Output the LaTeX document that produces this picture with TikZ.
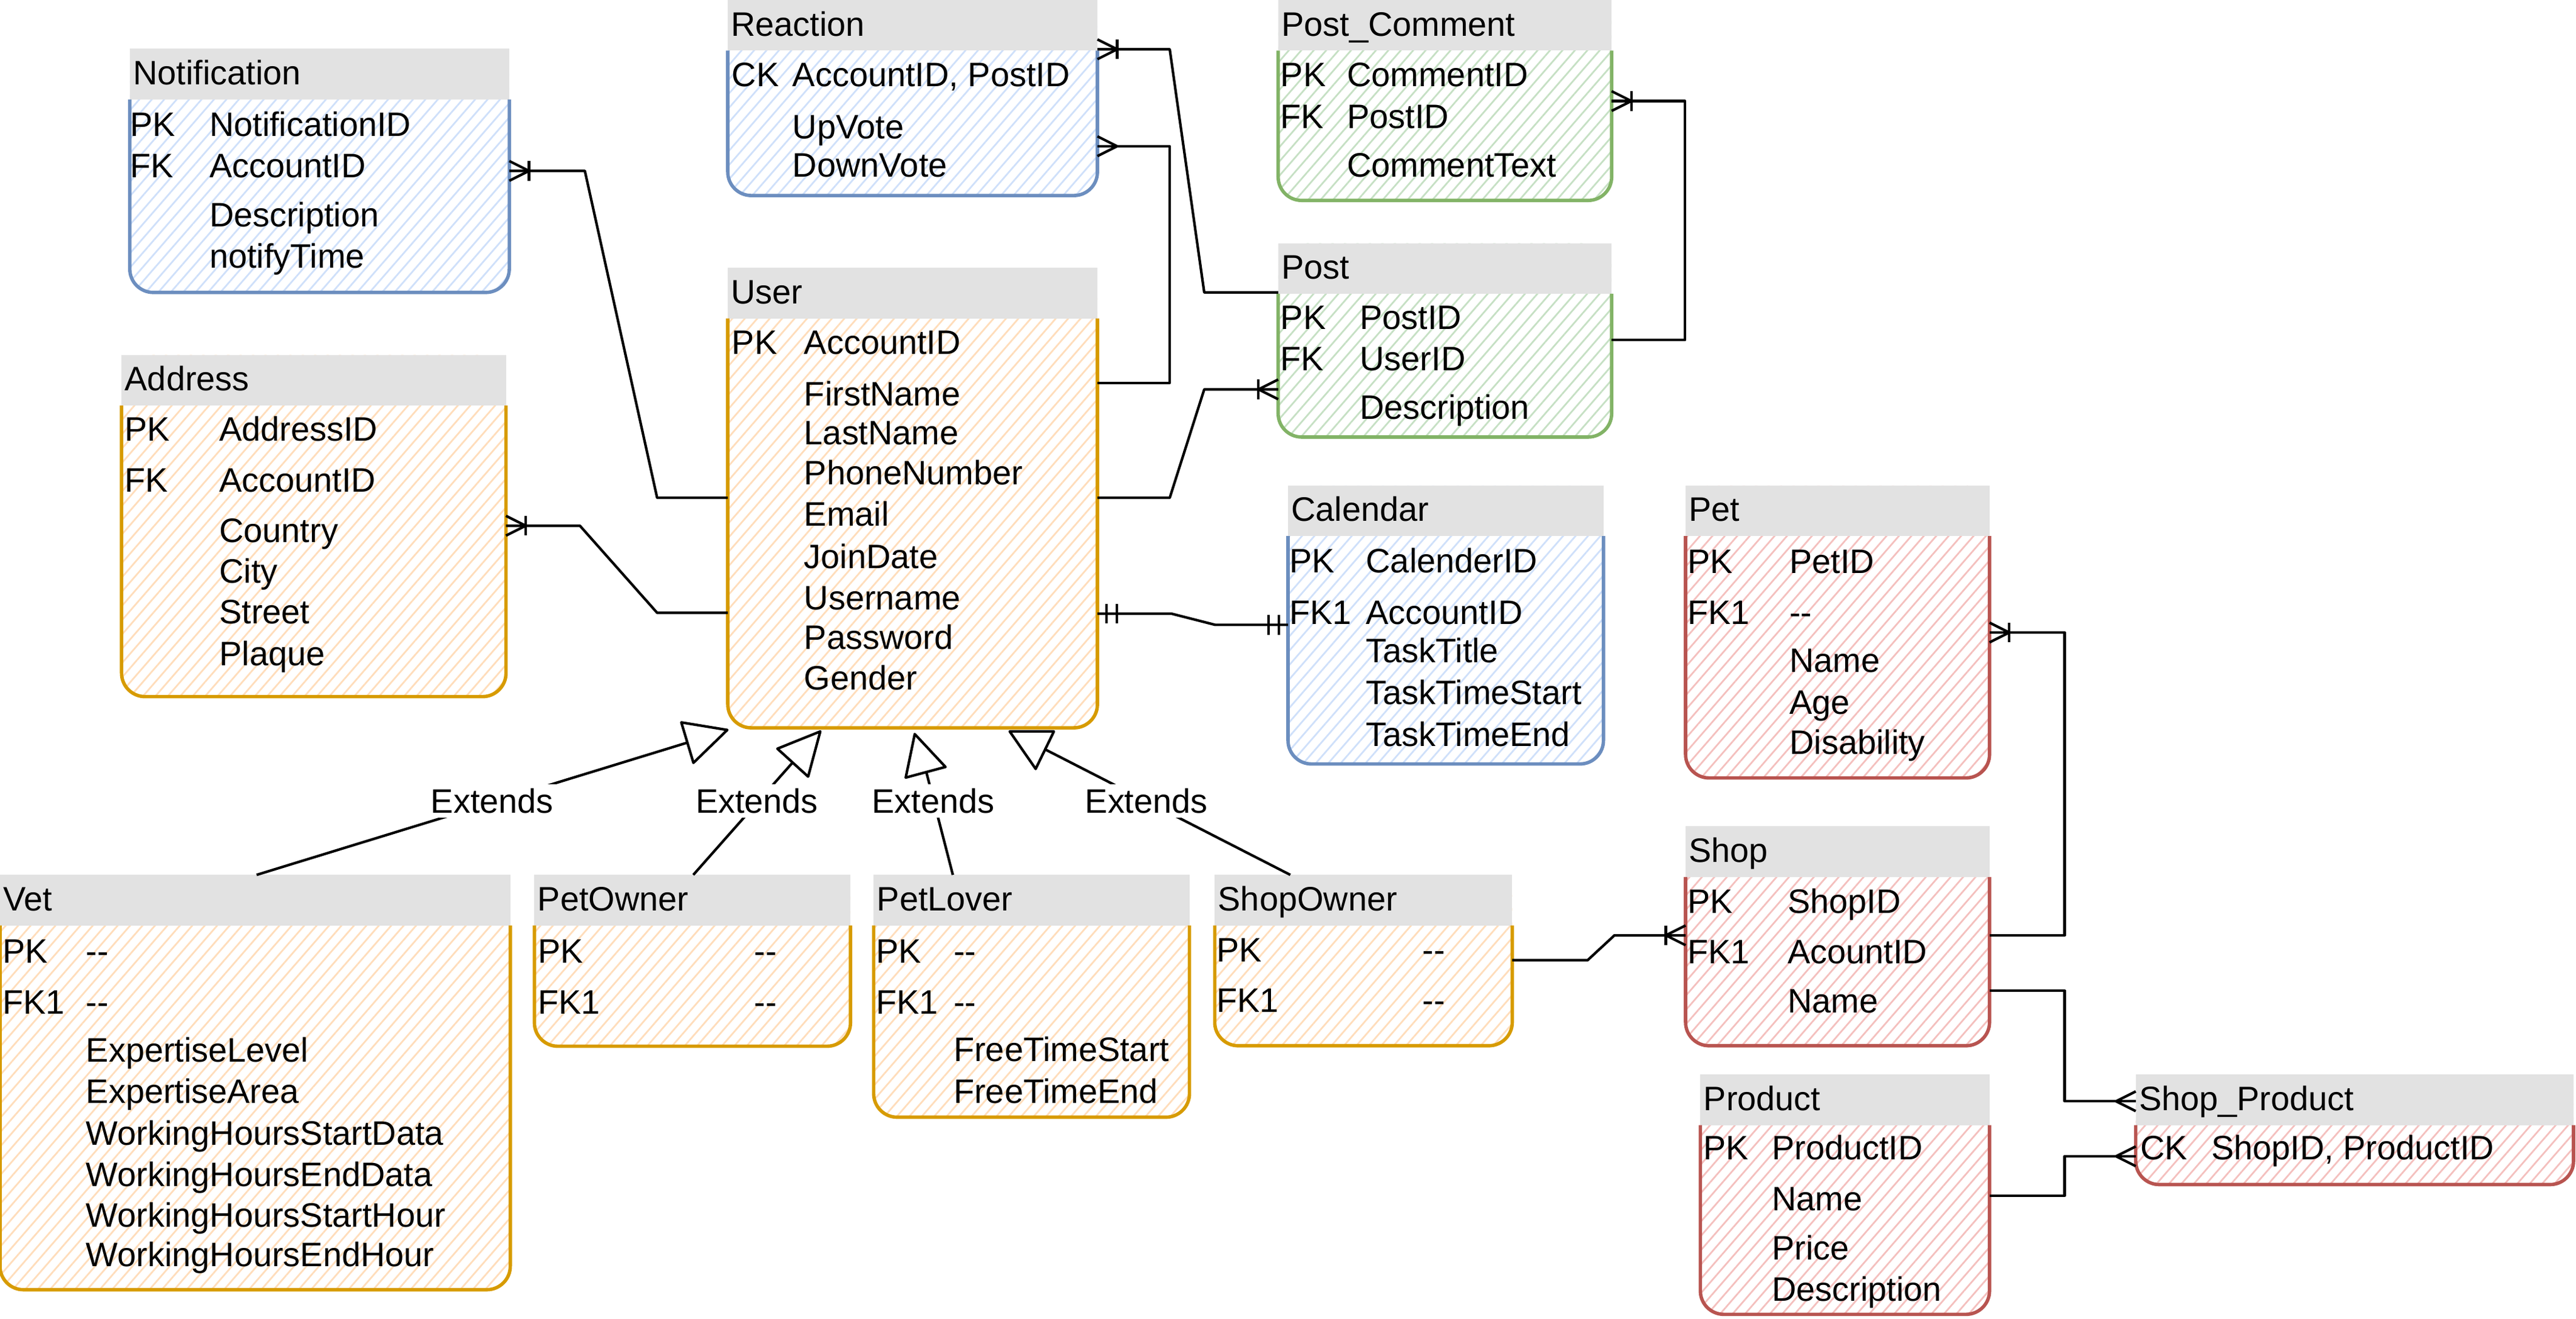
\documentclass[tikz,border=0pt]{standalone}
\usepackage{fontspec}
\setmainfont{Liberation Sans}
\usetikzlibrary{fit,patterns.meta}
\definecolor{blueS}{HTML}{6C8EBF}
\definecolor{blueF}{HTML}{CFE0FA}
\definecolor{orangeS}{HTML}{D79B00}
\definecolor{orangeF}{HTML}{FFDDBB}
\definecolor{greenS}{HTML}{82B366}
\definecolor{greenF}{HTML}{C6E0C4}
\definecolor{redS}{HTML}{B85450}
\definecolor{redF}{HTML}{F4C0BE}
\definecolor{hdrgray}{HTML}{E2E2E2}
\tikzset{
  txt/.style={inner sep=0pt, outer sep=0pt, font=\fontsize{15.9pt}{18pt}\selectfont, text=black},
  conn/.style={line width=1.2pt, black, line join=round},
  lbl/.style={txt, fill=white, inner sep=2pt},
  onemany/.pic={\draw[conn] (0,-6) -- (12,0) -- (0,6); \draw[conn] (12,-6) -- (12,6);},
  manyfoot/.pic={\draw[conn] (0,-6) -- (12,0) -- (0,6);},
  mandone/.pic={\draw[conn] (5.6,-6) -- (5.6,6); \draw[conn] (11.7,-6) -- (11.7,6);},
}
\newcommand\ertbl[8]{%
  \node[fit={(#2,#3) (#4,#5)}, inner sep=0pt, outer sep=0pt] (#1) {};
  \path[pattern={Lines[angle=49,distance=4.4pt,line width=0.8pt]}, pattern color=#6, rounded corners=11pt] (#2,#3) rectangle (#4,#5);
  \fill[hdrgray] (#2,#3) rectangle (#4,{#3+30.8});
  \draw[#7, line width=1.6pt, rounded corners=11pt] (#2,{#3+30.8}) -- (#2,#5) -- (#4,#5) -- (#4,{#3+30.8});
  \node[txt, anchor=base west] (#1-title) at ({#2+2},{#3+21.8}) {#8};
}
\newcommand\rw[4]{\node[txt, anchor=base west] (#1) at (#2,#3) {#4};}
\begin{document}
\begin{tikzpicture}[x=0.027066cm, y=-0.027066cm]
\useasboundingbox (0,0) rectangle (1568,802.5);

% ---------- tables ----------
\ertbl{notif}{79}{29.7}{310}{178}{blueF}{blueS}{Notification}
\rw{notif-k1}{79.1}{83}{PK}\rw{notif-n1}{127.5}{83}{NotificationID}
\rw{notif-k2}{79.1}{108}{FK}\rw{notif-n2}{127.5}{108}{AccountID}
\rw{notif-n3}{127.5}{138}{Description}
\rw{notif-n4}{127.5}{163}{notifyTime}

\ertbl{react}{443}{0}{668}{119}{blueF}{blueS}{Reaction}
\rw{react-k1}{445.5}{52.8}{CK}\rw{react-n1}{482.5}{52.8}{AccountID, PostID}
\rw{react-n2}{482.5}{84.6}{UpVote}
\rw{react-n3}{482.5}{107.8}{DownVote}

\ertbl{pcom}{778}{0}{981}{122}{greenF}{greenS}{Post\_Comment}
\rw{pcom-k1}{779.5}{52.6}{PK}\rw{pcom-n1}{820}{52.6}{CommentID}
\rw{pcom-k2}{779.5}{78}{FK}\rw{pcom-n2}{820}{78}{PostID}
\rw{pcom-n3}{820}{107.7}{CommentText}

\ertbl{post}{778}{148}{981}{266}{greenF}{greenS}{Post}
\rw{post-k1}{779.5}{200.4}{PK}\rw{post-n1}{827.8}{200.4}{PostID}
\rw{post-k2}{779.5}{225.4}{FK}\rw{post-n2}{827.8}{225.4}{UserID}
\rw{post-n3}{827.8}{255}{Description}

\ertbl{user}{443}{163}{668}{443}{orangeF}{orangeS}{User}
\rw{user-k1}{445.5}{215.7}{PK}\rw{user-n1}{489.5}{215.7}{AccountID}
\rw{user-n2}{489.5}{247}{FirstName}
\rw{user-n3}{489.5}{270.5}{LastName}
\rw{user-n4}{489.5}{295}{PhoneNumber}
\rw{user-n5}{489.5}{320}{Email}
\rw{user-n6}{489.5}{346}{JoinDate}
\rw{user-n7}{489.5}{371}{Username}
\rw{user-n8}{489.5}{395}{Password}
\rw{user-n9}{489.5}{420}{Gender}

\ertbl{addr}{74}{216}{308}{424}{orangeF}{orangeS}{Address}
\rw{addr-k1}{75.9}{268.5}{PK}\rw{addr-n1}{133.5}{268.5}{AddressID}
\rw{addr-k2}{75.9}{299.6}{FK}\rw{addr-n2}{133.5}{299.6}{AccountID}
\rw{addr-n3}{133.5}{330}{Country}
\rw{addr-n4}{133.5}{355}{City}
\rw{addr-n5}{133.5}{379.6}{Street}
\rw{addr-n6}{133.5}{405}{Plaque}

\ertbl{cal}{784}{295.5}{976}{465}{blueF}{blueS}{Calendar}
\rw{cal-k1}{784.9}{348.7}{PK}\rw{cal-n1}{831.5}{348.7}{CalenderID}
\rw{cal-k2}{784.9}{379.8}{FK1}\rw{cal-n2}{831.5}{379.8}{AccountID}
\rw{cal-n3}{831.5}{403.4}{TaskTitle}
\rw{cal-n4}{831.5}{428.7}{TaskTimeStart}
\rw{cal-n5}{831.5}{454.3}{TaskTimeEnd}

\ertbl{pet}{1026}{295.5}{1211}{473.5}{redF}{redS}{Pet}
\rw{pet-k1}{1027.1}{349}{PK}\rw{pet-n1}{1089.3}{349}{PetID}
\rw{pet-k2}{1027.1}{379.8}{FK1}\rw{pet-n2}{1089.3}{379.8}{-{}-}
\rw{pet-n3}{1089.3}{409.3}{Name}
\rw{pet-n4}{1089.3}{434.6}{Age}
\rw{pet-n5}{1089.3}{459.2}{Disability}

\ertbl{shop}{1026}{503}{1211}{636.5}{redF}{redS}{Shop}
\rw{shop-k1}{1027.1}{556}{PK}\rw{shop-n1}{1088.2}{556}{ShopID}
\rw{shop-k2}{1027.1}{586.4}{FK1}\rw{shop-n2}{1088.2}{586.4}{AcountID}
\rw{shop-n3}{1088.2}{616.6}{Name}

\ertbl{prod}{1035}{654}{1211}{800}{redF}{redS}{Product}
\rw{prod-k1}{1036.8}{706}{PK}\rw{prod-n1}{1078.5}{706}{ProductID}
\rw{prod-n2}{1078.5}{737}{Name}
\rw{prod-n3}{1078.5}{766.8}{Price}
\rw{prod-n4}{1078.5}{792}{Description}

\ertbl{shpr}{1300}{654}{1566.5}{721}{redF}{redS}{Shop\_Product}
\rw{shpr-k1}{1302.8}{706}{CK}\rw{shpr-n1}{1346}{706}{ShopID, ProductID}

\ertbl{sowner}{739.4}{532.5}{920.5}{636.5}{orangeF}{orangeS}{ShopOwner}
\rw{sowner-k1}{740.6}{585.5}{PK}\rw{sowner-n1}{866}{585.5}{-{}-}
\rw{sowner-k2}{740.6}{616}{FK1}\rw{sowner-n2}{866}{616}{-{}-}

\ertbl{vet}{0}{532.5}{310.6}{785}{orangeF}{orangeS}{Vet}
\rw{vet-k1}{1.6}{586}{PK}\rw{vet-n1}{52.4}{586}{-{}-}
\rw{vet-k2}{1.6}{617.3}{FK1}\rw{vet-n2}{52.4}{617.3}{-{}-}
\rw{vet-n3}{52.4}{646.2}{ExpertiseLevel}
\rw{vet-n4}{52.4}{671.5}{ExpertiseArea}
\rw{vet-n5}{52.4}{696.8}{WorkingHoursStartData}
\rw{vet-n6}{52.4}{722}{WorkingHoursEndData}
\rw{vet-n7}{52.4}{746.9}{WorkingHoursStartHour}
\rw{vet-n8}{52.4}{771}{WorkingHoursEndHour}

\ertbl{powner}{325.3}{532.5}{517.7}{636.8}{orangeF}{orangeS}{PetOwner}
\rw{powner-k1}{327.5}{586}{PK}\rw{powner-n1}{459.2}{586}{-{}-}
\rw{powner-k2}{327.5}{617}{FK1}\rw{powner-n2}{459.2}{617}{-{}-}

\ertbl{plover}{531.8}{532.5}{724}{680}{orangeF}{orangeS}{PetLover}
\rw{plover-k1}{533.3}{586}{PK}\rw{plover-n1}{580.5}{586}{-{}-}
\rw{plover-k2}{533.3}{617}{FK1}\rw{plover-n2}{580.5}{617}{-{}-}
\rw{plover-n3}{580.5}{646}{FreeTimeStart}
\rw{plover-n4}{580.5}{671.5}{FreeTimeEnd}

% ---------- relationships ----------
\draw[conn] (notif.east |- 0,104) -- (356,104) -- (400,303) -- (user.west |- 0,303);
\pic at (notif.east |- 0,104) {onemany};
\draw[conn] (addr.east |- 0,320) -- (353,320) -- (400,373) -- (user.west |- 0,373);
\pic at (addr.east |- 0,320) {onemany};
\draw[conn] (react.east |- 0,30) -- (712,30) -- (733,178) -- (post.west |- 0,178);
\pic at (react.east |- 0,30) {onemany};
\draw[conn] (react.east |- 0,89) -- (712,89) -- (712,233) -- (user.east |- 0,233);
\pic at (react.east |- 0,89) {manyfoot};
\draw[conn] (user.east |- 0,303) -- (712,303) -- (733,237) -- (post.west |- 0,237);
\pic[xscale=-1] at (post.west |- 0,237) {onemany};
\draw[conn] (post.east |- 0,207) -- (1025.6,207) -- (1025.6,61.5) -- (pcom.east |- 0,61.5);
\pic at (pcom.east |- 0,61.5) {onemany};
\draw[conn] (user.east |- 0,373.5) -- (713,373.5) -- (739.6,380.3) -- (cal.west |- 0,380.3);
\pic at (user.east |- 0,373.5) {mandone};
\pic[xscale=-1] at (cal.west |- 0,380.3) {mandone};
\draw[conn] (sowner.east |- 0,584.4) -- (966.4,584.4) -- (982.7,569.3) -- (shop.west |- 0,569.3);
\pic[xscale=-1] at (shop.west |- 0,569.3) {onemany};
\draw[conn] (shop.east |- 0,569.3) -- (1256.7,569.3) -- (1256.7,385) -- (pet.east |- 0,385);
\pic at (pet.east |- 0,385) {onemany};
\draw[conn] (shop.east |- 0,603) -- (1256.7,603) -- (1256.7,670.3) -- (shpr.west |- 0,670.3);
\pic[xscale=-1] at (shpr.west |- 0,670.3) {manyfoot};
\draw[conn] (prod.east |- 0,727.7) -- (1256.7,727.7) -- (1256.7,703.8) -- (shpr.west |- 0,703.8);
\pic[xscale=-1] at (shpr.west |- 0,703.8) {manyfoot};

% ---------- inheritance ----------
\coordinate (vet-arr) at (418.4,452);
\coordinate (powner-arr) at (482.3,464.3);
\coordinate (plover-arr) at (563.9,470.2);
\coordinate (sowner-arr) at (636.5,456.3);
\draw[conn] (vet.north -| 156.2,0) -- (vet-arr);
\draw[conn] (powner.north -| 422,0) -- (powner-arr);
\draw[conn] (plover.north -| 580,0) -- (plover-arr);
\draw[conn] (sowner.north -| 785.4,0) -- (sowner-arr);
\draw[conn, fill=white] (414.7,439.7) -- (442.7,444.3) -- (422.1,464.3) -- cycle;
\draw[conn, fill=white] (473.2,455.7) -- (499.3,445.2) -- (491.9,472.7) -- cycle;
\draw[conn, fill=white] (551.3,473.3) -- (575.5,466.8) -- (556.8,446.8) -- cycle;
\draw[conn, fill=white] (614.6,445.2) -- (641.5,445.2) -- (630.4,468) -- cycle;
\node[lbl, anchor=base] (ext-vet) at (299.6,495) {Extends};
\node[lbl, anchor=base] (ext-powner) at (460.7,495) {Extends};
\node[lbl, anchor=base] (ext-plover) at (568,495) {Extends};
\node[lbl, anchor=base] (ext-sowner) at (697.8,495) {Extends};
\end{tikzpicture}
\end{document}
